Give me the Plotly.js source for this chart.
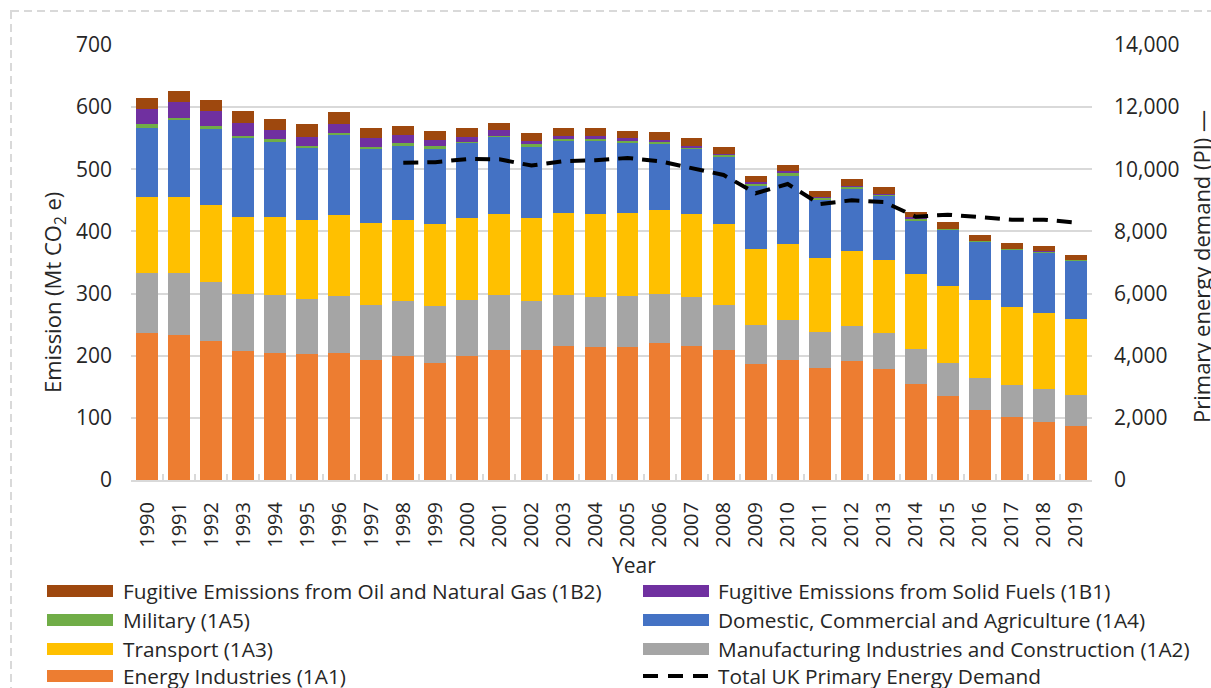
<!DOCTYPE html>
<html>
<head>
<meta charset="utf-8">
<script src="https://cdn.plot.ly/plotly-3.0.1.min.js"></script>
<style>html,body{margin:0;padding:0;background:#fff;}#chart{width:1211px;height:688px;}</style>
</head>
<body>
<div id="chart"></div>
<script>
const years = ["1990","1991","1992","1993","1994","1995","1996","1997","1998","1999","2000","2001","2002","2003","2004","2005","2006","2007","2008","2009","2010","2011","2012","2013","2014","2015","2016","2017","2018","2019"];
const energyIndustries = [236,234,224,208,205,203,205,193,199,188,199,209,209,216,214,214,220,216,209,187,193,181,191,179,154,135,113,102,94,87];
const manufacturing = [97,99,95,92,93,89,91,89,89,92,91,89,79,82,80,82,80,78,72,62,65,57,57,57,57,53,51,51,53,50];
const transport = [122,122,124,124,126,126,130,132,130,132,132,130,134,132,134,134,134,134,131,123,121,120,120,118,120,124,126,126,122,122];
const domestic = [112,124,122,126,120,116,129,118,120,121,120,124,114,116,118,112,107,104,107,101,111,92,101,103,86,90,93,91,96,93];
const military = [6,4,5,4,4,3.5,3.7,4,4,4,2.2,2,4,2,2,4.2,2.2,2,3.7,4,4,3.2,3.2,2,2.7,1.6,1,1.3,2.2,1.6];
const solidFuels = [24,25,23,20.5,15,14,14.6,14.4,12.7,10,8,8.8,6,6,6,4.4,4,4,2.7,2.5,2.5,2.3,1.6,1.7,2.8,1.1,1.1,1.2,1,1];
const oilGas = [17,18,18,19.5,18,21.5,19,16,14.3,14.5,14.5,12.2,12.4,12.5,12.5,11.6,12.5,12,10.3,10.3,10.4,10,10.4,10.3,8,10.2,8.4,8.8,8.6,8];
const primaryDemand = [null,null,null,null,null,null,null,null,10212,10230,10330,10320,10120,10260,10290,10365,10260,10032,9817,9228,9527,8883,9003,8948,8474,8539,8464,8379,8379,8282];

const seriesNames = {
  energy: "Energy Industries (1A1)",
  manuf: "Manufacturing Industries and Construction (1A2)",
  transport: "Transport (1A3)",
  domestic: "Domestic, Commercial and Agriculture (1A4)",
  military: "Military (1A5)",
  solid: "Fugitive Emissions from Solid Fuels (1B1)",
  oil: "Fugitive Emissions from Oil and Natural Gas (1B2)",
  demand: "Total UK Primary Energy Demand"
};
const colors = {
  energy: "#ED7D31", manuf: "#A5A5A5", transport: "#FFC000", domestic: "#4472C4",
  military: "#70AD47", solid: "#7030A0", oil: "#9E480E", demand: "#000000"
};
const seriesData = {
  energy: energyIndustries, manuf: manufacturing, transport: transport, domestic: domestic,
  military: military, solid: solidFuels, oil: oilGas
};
const stackOrder = ["energy","manuf","transport","domestic","military","solid","oil"];

const traces = stackOrder.map(k => ({
  type: "bar", x: years, y: seriesData[k], name: seriesNames[k],
  marker: {color: colors[k], line: {width: 0}}, showlegend: false
}));
traces.push({
  type: "scatter", mode: "lines", x: years, y: primaryDemand, yaxis: "y2",
  name: seriesNames.demand, line: {color: "#000", width: 4, dash: "15px,9px"},
  connectgaps: false, showlegend: false
});

const L = 131, R = 1092, T = 45, B = 480;
const px = x => (x - L) / (R - L);
const py = y => (B - y) / (B - T);

const FONT = "Open Sans, DejaVu Sans, sans-serif";
const TXT = "#262626";

const legendRows = [
  ["oil","solid"],
  ["military","domestic"],
  ["transport","manuf"],
  ["energy","demand"]
];
const rowY = [591, 620, 649, 676];
const colSwatch = [[47,113],[643,709]];
const colText = [121, 716];
const shapes = [];
const annotations = [];
legendRows.forEach((row, r) => {
  row.forEach((k, c) => {
    const y = rowY[r];
    if (k === "demand") {
      shapes.push({type: "line", xref: "paper", yref: "paper",
        x0: px(colSwatch[c][0]), x1: px(colSwatch[c][1]), y0: py(y), y1: py(y),
        line: {color: "#000", width: 4, dash: "15px,10px"}});
    } else {
      shapes.push({type: "rect", xref: "paper", yref: "paper",
        x0: px(colSwatch[c][0]), x1: px(colSwatch[c][1]), y0: py(y - 6), y1: py(y + 6),
        fillcolor: colors[k], line: {width: 0}});
    }
    annotations.push({xref: "paper", yref: "paper", x: px(colText[c]), y: py(y),
      xanchor: "left", yanchor: "middle", showarrow: false, text: seriesNames[k],
      font: {family: FONT, size: 20.8, color: TXT}});
  });
});

shapes.push({type: "rect", xref: "paper", yref: "paper", layer: "below",
  x0: px(11), x1: px(1230), y0: py(11), y1: py(720),
  line: {color: "#d9d9d9", width: 2, dash: "8px,5px"}, fillcolor: "rgba(0,0,0,0)"});

annotations.push({xref: "paper", yref: "paper", x: px(54), y: py(293), textangle: -90,
  xanchor: "center", yanchor: "middle", showarrow: false,
  text: "Emission (Mt CO<sub>2</sub> e)", font: {family: FONT, size: 22, color: TXT}});
annotations.push({xref: "paper", yref: "paper", x: px(634), y: py(565),
  xanchor: "center", yanchor: "middle", showarrow: false,
  text: "Year", font: {family: FONT, size: 21, color: TXT}});
annotations.push({xref: "paper", yref: "paper", x: px(1184), y: py(267), textangle: -90,
  xanchor: "left", yanchor: "middle", showarrow: false,
  text: "Primary energy demand (PJ) —", font: {family: FONT, size: 22, color: TXT}});

const layout = {
  width: 1211, height: 688,
  margin: {l: L, r: 1211 - R, t: T, b: 688 - B, pad: 0},
  paper_bgcolor: "#fff", plot_bgcolor: "#fff",
  barmode: "stack", bargap: 0.32,
  showlegend: false,
  font: {family: FONT, color: TXT},
  xaxis: {
    type: "category", tickangle: -90, tickfont: {family: FONT, size: 20, color: TXT},
    showgrid: false, showline: true, linecolor: "#d9d9d9", linewidth: 2,
    ticks: "inside", tickson: "boundaries", ticklen: 6, tickcolor: "#d9d9d9", tickwidth: 2,
    ticklabelstandoff: 12, zeroline: false, fixedrange: true
  },
  yaxis: {
    range: [0, 700], dtick: 100, showgrid: true, gridcolor: "#d9d9d9", gridwidth: 2,
    zeroline: false, showline: false, ticks: "", tickfont: {family: FONT, size: 21, color: TXT},
    ticklabelstandoff: 18
  },
  yaxis2: {
    overlaying: "y", side: "right", range: [0, 14000], dtick: 2000, tickformat: ",d",
    showgrid: false, zeroline: false, showline: false, ticks: "",
    tickfont: {family: FONT, size: 21, color: TXT}, ticklabelstandoff: 21
  },
  shapes: shapes,
  annotations: annotations
};

Plotly.newPlot("chart", traces, layout, {displayModeBar: false, staticPlot: true});
</script>
</body>
</html>
